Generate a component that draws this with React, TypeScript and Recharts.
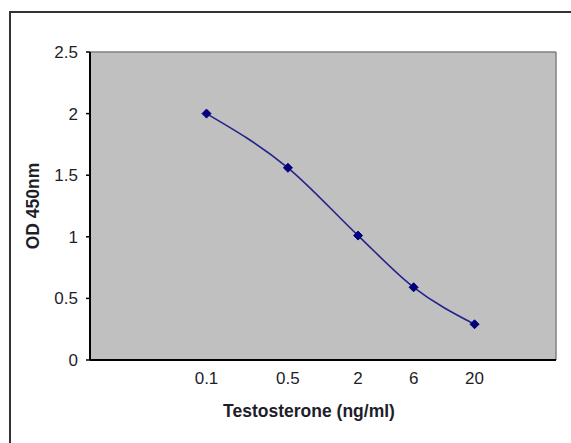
import React from 'react';
import { LineChart, Line, XAxis, YAxis, CartesianGrid, ReferenceLine } from 'recharts';

const CONCENTRATIONS = [0.1, 0.5, 2, 6, 20];
const OD_450 = [2.0, 1.56, 1.01, 0.59, 0.29];
const Y_TICKS = [0, 0.5, 1, 1.5, 2, 2.5];

const data = CONCENTRATIONS.map((conc, i) => ({ conc, od: OD_450[i] }));

const FONT = '"Liberation Sans", Arial, sans-serif';

const Diamond = (props: any) => {
  const { cx, cy } = props;
  if (cx == null || cy == null) return null;
  const r = 4.5;
  return (
    <polygon
      points={`${cx},${cy - r} ${cx + r},${cy} ${cx},${cy + r} ${cx - r},${cy}`}
      fill="#00007a"
      stroke="#00007a"
    />
  );
};

const YTitle = ({ viewBox }: any) => {
  const x = viewBox.x + viewBox.width / 2 - 12;
  const y = viewBox.y + viewBox.height / 2;
  return (
    <text
      x={x}
      y={y}
      transform={`rotate(-90 ${x} ${y})`}
      textAnchor="middle"
      dominantBaseline="central"
      fontFamily={FONT}
      fontSize={17.5}
      fontWeight="bold"
      fill="#1e1e2a"
    >
      OD 450nm
    </text>
  );
};

const XTitle = ({ viewBox }: any) => {
  const x = viewBox.x + viewBox.width / 2 - 14;
  const y = viewBox.y + 51;
  return (
    <text x={x} y={y} textAnchor="middle" dominantBaseline="central" fontFamily={FONT} fontSize={17.5} fontWeight="bold" fill="#1e1e2a">
      Testosterone (ng/ml)
    </text>
  );
};

const App = () => {
  return (
    <div style={{ position: 'absolute', left: 0, top: 0, width: 571, height: 443, overflow: 'hidden', background: '#fff' }}>
      <div
        style={{
          position: 'absolute',
          left: 9,
          top: 11,
          width: 600,
          height: 500,
          borderLeft: '2px solid #333',
          borderTop: '2px solid #333',
        }}
      />
      <div style={{ position: 'absolute', left: 0, top: 0 }}>
        <LineChart width={571} height={443} data={data} margin={{ top: 52, right: 15, bottom: 23, left: 0 }}>
          <CartesianGrid fill="#c0c0c0" fillOpacity={1} horizontal={false} vertical={false} />
          <ReferenceLine y={2.5} stroke="#808080" strokeWidth={1.5} />
          <ReferenceLine x={100} stroke="#808080" strokeWidth={1.5} />
          <XAxis
            dataKey="conc"
            type="number"
            scale="log"
            domain={[0.01, 100]}
            ticks={CONCENTRATIONS}
            allowDataOverflow
            height={60}
            tickLine={false}
            tickSize={6}
            tickMargin={6}
            axisLine={{ stroke: '#000', strokeWidth: 2 }}
            tick={{ fill: '#1e1e2a', fontSize: 17, fontFamily: FONT }}
            label={<XTitle />}
          />
          <YAxis
            type="number"
            domain={[0, 2.5]}
            ticks={Y_TICKS}
            width={90}
            tickSize={4}
            tickMargin={8}
            tickLine={{ stroke: '#000', strokeWidth: 1.5 }}
            axisLine={{ stroke: '#000', strokeWidth: 2 }}
            tick={{ fill: '#1e1e2a', fontSize: 17, fontFamily: FONT }}
            label={<YTitle />}
          />
          <Line
            type="monotone"
            dataKey="od"
            stroke="#23238c"
            strokeWidth={1.6}
            dot={<Diamond />}
            activeDot={false}
            isAnimationActive={false}
          />
        </LineChart>
      </div>
    </div>
  );
};

export default App;
